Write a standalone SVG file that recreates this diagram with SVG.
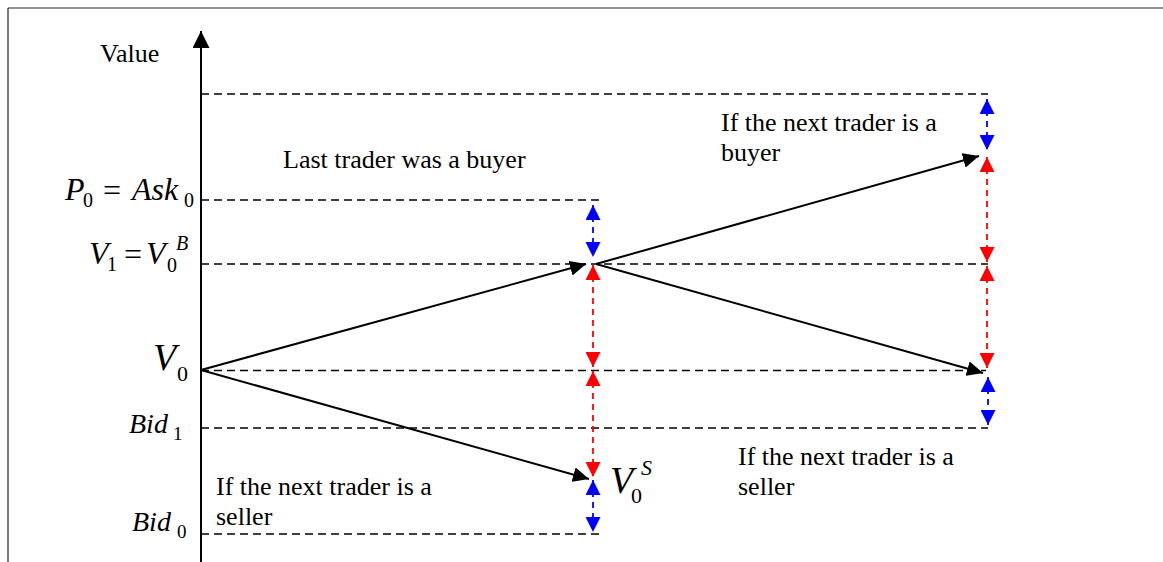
<svg xmlns="http://www.w3.org/2000/svg" width="1163" height="562" viewBox="0 0 1163 562">
<style>
  .txt { font-family: "Liberation Serif", "Times New Roman", serif; font-size: 26px; fill: #000; }
  .it { font-family: "Liberation Serif", "Times New Roman", serif; font-style: italic; fill: #000; }
  .rm { font-family: "Liberation Serif", "Times New Roman", serif; fill: #000; }
  .grid { stroke: #000; stroke-width: 1.5; stroke-dasharray: 8 5; fill: none; }
  .solid { stroke: #000; stroke-width: 2; fill: none; marker-end: url(#hb); }
  .red { stroke: #ff0000; stroke-width: 1.8; stroke-dasharray: 6 5; fill: none; marker-start: url(#hr); marker-end: url(#hr); }
  .blue { stroke: #0000ff; stroke-width: 1.8; stroke-dasharray: 6 5; fill: none; marker-start: url(#hu); marker-end: url(#hu); }
</style>
<defs>
  <marker id="hb" markerUnits="userSpaceOnUse" markerWidth="17" markerHeight="15" refX="16" refY="7.5" orient="auto" viewBox="0 0 17 15">
    <path d="M0,0 L16,7.5 L0,15 z" fill="#000" stroke="none"/>
  </marker>
  <marker id="hr" markerUnits="userSpaceOnUse" markerWidth="16" markerHeight="15" refX="15" refY="7.5" orient="auto-start-reverse" viewBox="0 0 16 15">
    <path d="M0,0 L15,7.5 L0,15 z" fill="#ff0000" stroke="none"/>
  </marker>
  <marker id="hu" markerUnits="userSpaceOnUse" markerWidth="16" markerHeight="15" refX="15" refY="7.5" orient="auto-start-reverse" viewBox="0 0 16 15">
    <path d="M0,0 L15,7.5 L0,15 z" fill="#0000ff" stroke="none"/>
  </marker>
  <marker id="ax" markerUnits="userSpaceOnUse" markerWidth="18" markerHeight="18" refX="17" refY="8.5" orient="auto" viewBox="0 0 18 18">
    <path d="M0,0 L17,8.5 L0,17 z" fill="#000" stroke="none"/>
  </marker>
</defs>
<rect width="1163" height="562" fill="#fff"/>
<g id="frame" stroke="#222" stroke-width="1.2" fill="none">
  <line x1="8" y1="8" x2="1163" y2="8"/>
  <line x1="8" y1="8" x2="8" y2="562"/>
</g>
<g id="axis">
  <line x1="201" y1="562" x2="201" y2="31" stroke="#000" stroke-width="2" marker-end="url(#ax)"/>
</g>
<g id="levels">
  <line class="grid" x1="201" y1="94" x2="988" y2="94"/>
  <line class="grid" x1="201" y1="200" x2="599" y2="200"/>
  <line class="grid" x1="201" y1="264" x2="988" y2="264"/>
  <line class="grid" x1="201" y1="370.5" x2="986" y2="370.5"/>
  <line class="grid" x1="201" y1="428" x2="988" y2="428"/>
  <line class="grid" x1="201" y1="534" x2="599" y2="534"/>
</g>
<g id="connectors">
  <line class="solid" x1="201" y1="370" x2="586" y2="264"/>
  <line class="solid" x1="201" y1="370" x2="589" y2="479"/>
  <line class="solid" x1="596" y1="264" x2="979" y2="156"/>
  <line class="solid" x1="596" y1="264" x2="983" y2="373"/>
  <line class="blue" x1="593" y1="205" x2="593" y2="257"/>
  <line class="red" x1="593" y1="265" x2="593" y2="367"/>
  <line class="red" x1="593" y1="371" x2="593" y2="477"/>
  <line class="blue" x1="593" y1="480" x2="593" y2="532"/>
  <line class="blue" x1="987" y1="99" x2="987" y2="150"/>
  <line class="red" x1="987" y1="157" x2="987" y2="262"/>
  <line class="red" x1="987" y1="266" x2="987" y2="368"/>
  <line class="blue" x1="988" y1="377" x2="988" y2="425"/>
</g>
<g id="label-value"><text class="txt" x="100" y="62">Value</text></g>
<g id="label-last"><text class="txt" x="283" y="168">Last trader was a buyer</text></g>
<g id="label-buyer">
  <text class="txt" x="721" y="131">If the next trader is a</text>
  <text class="txt" x="721" y="161">buyer</text>
</g>
<g id="label-seller-right">
  <text class="txt" x="738" y="465">If the next trader is a</text>
  <text class="txt" x="738" y="495">seller</text>
</g>
<g id="label-seller-left">
  <text class="txt" x="216" y="495">If the next trader is a</text>
  <text class="txt" x="216" y="525">seller</text>
</g>
<g id="label-P0">
  <text class="it" x="65" y="200" font-size="32">P</text>
  <text class="rm" x="83" y="207" font-size="20">0</text>
  <text class="rm" x="103" y="201" font-size="32">=</text>
  <text class="it" x="132" y="200" font-size="32">Ask</text>
  <text class="rm" x="184" y="207" font-size="20">0</text>
</g>
<g id="label-V1">
  <text class="it" x="89" y="264" font-size="32">V</text>
  <text class="rm" x="107" y="271" font-size="20">1</text>
  <text class="rm" x="124" y="265" font-size="32">=</text>
  <text class="it" x="146" y="264" font-size="32">V</text>
  <text class="rm" x="167" y="272" font-size="20">0</text>
  <text class="it" x="176" y="250" font-size="20">B</text>
</g>
<g id="label-V0">
  <text class="it" x="153" y="370" font-size="38">V</text>
  <text class="rm" x="177" y="381" font-size="22">0</text>
</g>
<g id="label-Bid1">
  <text class="it" x="129" y="433" font-size="28">Bid</text>
  <text class="rm" x="173" y="440" font-size="19">1</text>
</g>
<g id="label-Bid0">
  <text class="it" x="132" y="531" font-size="28">Bid</text>
  <text class="rm" x="177" y="538" font-size="19">0</text>
</g>
<g id="label-V0S">
  <text class="it" x="610" y="493" font-size="38">V</text>
  <text class="rm" x="631" y="503" font-size="22">0</text>
  <text class="it" x="641" y="475" font-size="22">S</text>
</g>
</svg>
